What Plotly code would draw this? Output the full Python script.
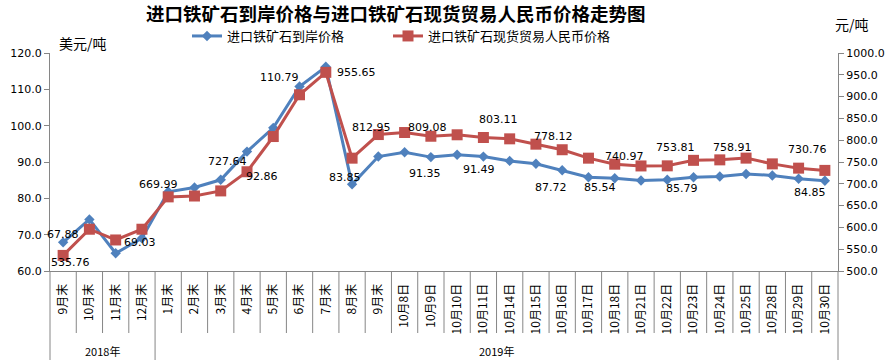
import plotly.graph_objects as go

# ---------------- data ----------------
categories = ["9月末", "10月末", "11月末", "12月末",
              "1月末", "2月末", "3月末", "4月末", "5月末", "6月末", "7月末", "8月末", "9月末",
              "10月8日", "10月9日", "10月10日", "10月11日", "10月14日", "10月15日", "10月16日",
              "10月17日", "10月18日", "10月21日", "10月22日", "10月23日", "10月24日", "10月25日",
              "10月28日", "10月29日", "10月30日"]
year_labels = ["2018年", "2019年"]
year_sizes = [4, 26]

usd_price = [67.88, 74.2, 64.9, 69.03, 81.8, 83.0, 85.1, 92.86, 99.4, 110.79, 116.2, 83.85,
             91.5, 92.7, 91.35, 92.0, 91.49, 90.3, 89.5, 87.72, 85.8, 85.54, 84.9, 85.1,
             85.79, 86.0, 86.7, 86.3, 85.4, 84.85]
rmb_price = [535.76, 595.8, 571.2, 595.8, 669.99, 672.0, 683.7, 727.64, 808.4, 904.2, 955.65, 758.8,
             812.95, 817.6, 809.08, 812.4, 806.2, 803.11, 790.9, 778.12, 758.8, 745.0, 740.97, 741.2,
             753.81, 754.9, 758.91, 745.7, 735.9, 730.76]

series_names = ["进口铁矿石到岸价格", "进口铁矿石现货贸易人民币价格"]
title_text = "进口铁矿石到岸价格与进口铁矿石现货贸易人民币价格走势图"
left_unit = "美元/吨"
right_unit = "元/吨"

# indices of labelled points
usd_label_idx = [0, 3, 7, 9, 11, 14, 16, 19, 21, 24, 29]
rmb_label_idx = [0, 4, 7, 10, 12, 14, 17, 19, 22, 24, 26, 29]

# ---------------- styles ----------------
usd_label_off = [(0, 8), (-2, -4), (15, -25), (-20, 9), (-7, 7), (-6, -16), (-4, -13),
                 (-11, -17), (-15, -9), (-12, -11), (-15, -12)]
rmb_label_off = [(7, -7), (-10, 12), (-20, 10), (31, 0), (-7, 7), (-3, 9), (-11, 19),
                 (-9, 13), (-17, 9), (-18, 13), (-14, 11), (-17, 21)]

BLUE = "#4F81BD"
RED = "#C0504D"
AXIS = "#868686"
CJK = "Noto Sans CJK SC"
NUM = "DejaVu Sans"

W, H = 896, 364
ML, MR, MT, MB = 50, 58, 53, 93
plot_w = W - ML - MR
plot_h = H - MT - MB


def px_x(p):
    return (p - ML) / plot_w


def px_y(p):
    return (H - MB - p) / plot_h


x = list(range(len(categories)))

fig = go.Figure()
fig.add_trace(go.Scatter(
    x=x, y=usd_price, name=series_names[0], mode="lines+markers",
    line=dict(color=BLUE, width=3),
    marker=dict(symbol="diamond", size=8, color=BLUE),
    yaxis="y", legend="legend"))
fig.add_trace(go.Scatter(
    x=x, y=rmb_price, name=series_names[1], mode="lines+markers",
    line=dict(color=RED, width=3),
    marker=dict(symbol="square", size=11, color=RED),
    yaxis="y2", legend="legend2"))

annotations = []
for i, (dx, dy) in zip(usd_label_idx, usd_label_off):
    annotations.append(dict(x=x[i], y=usd_price[i], xref="x", yref="y",
                            text=f"{usd_price[i]:.2f}", showarrow=False,
                            xshift=dx, yshift=dy,
                            font=dict(family=NUM, size=11, color="#000")))
for i, (dx, dy) in zip(rmb_label_idx, rmb_label_off):
    annotations.append(dict(x=x[i], y=rmb_price[i], xref="x", yref="y2",
                            text=f"{rmb_price[i]:.2f}", showarrow=False,
                            xshift=dx, yshift=dy,
                            font=dict(family=NUM, size=11, color="#000")))

# title & units
annotations.append(dict(x=px_x(396), y=px_y(13.4), xref="paper", yref="paper",
                        text=f"<b>{title_text}</b>", showarrow=False,
                        xanchor="center", yanchor="middle",
                        font=dict(family=CJK, size=18.5, color="#000")))
annotations.append(dict(x=px_x(57), y=px_y(43), xref="paper", yref="paper",
                        text=left_unit, showarrow=False, xanchor="left", yanchor="middle",
                        font=dict(family=CJK, size=14, color="#000")))
annotations.append(dict(x=px_x(833), y=px_y(24), xref="paper", yref="paper",
                        text=right_unit, showarrow=False, xanchor="left", yanchor="middle",
                        font=dict(family=CJK, size=14, color="#000")))

# category separators and year groups
n = len(categories)
shapes = []
group_edges = [0]
for s in year_sizes:
    group_edges.append(group_edges[-1] + s)
for k in range(n + 1):
    depth = 89 if k in group_edges else 62
    shapes.append(dict(type="line", xref="paper", yref="paper",
                       x0=k / n, x1=k / n, y0=0, y1=-depth / plot_h,
                       line=dict(color=AXIS, width=1)))
for g, lab in enumerate(year_labels):
    cx = (group_edges[g] + group_edges[g + 1]) / 2 / n
    annotations.append(dict(x=cx, y=-80 / plot_h, xref="paper", yref="paper",
                            text=lab, showarrow=False, xanchor="center", yanchor="middle",
                            font=dict(family=CJK, size=11, color="#000")))

legend_style = dict(orientation="h", xanchor="left", yanchor="middle",
                    font=dict(family=CJK, size=13, color="#000"),
                    bgcolor="rgba(0,0,0,0)")

fig.update_layout(
    width=W, height=H,
    margin=dict(l=ML, r=MR, t=MT, b=MB, autoexpand=False),
    paper_bgcolor="white", plot_bgcolor="white",
    showlegend=True,
    legend=dict(x=px_x(187), y=px_y(36), **legend_style),
    legend2=dict(x=px_x(388), y=px_y(36), **legend_style),
    annotations=annotations,
    shapes=shapes,
    xaxis=dict(range=[-0.5, n - 0.5], tickmode="array", tickvals=x, ticktext=categories,
               tickangle=-90, showline=True, linecolor=AXIS, ticks="", showgrid=False,
               zeroline=False, ticklabelstandoff=7, automargin=False,
               tickfont=dict(family=CJK, size=12, color="#000")),
    yaxis=dict(range=[60, 120], dtick=10, tickformat=".1f", showline=True, linecolor=AXIS,
               ticks="outside", ticklen=5, tickcolor=AXIS, showgrid=False, zeroline=False,
               automargin=False, tickfont=dict(family=NUM, size=11, color="#000")),
    yaxis2=dict(range=[500, 1000], dtick=50, tickformat=".1f", overlaying="y", side="right",
                showline=True, linecolor=AXIS, ticks="outside", ticklen=5, tickcolor=AXIS,
                showgrid=False, zeroline=False, automargin=False,
                tickfont=dict(family=NUM, size=11, color="#000")),
)

fig.write_html("out.html",
               config={"displayModeBar": False},
               post_script="document.body.style.margin='0px';document.body.style.overflow='hidden';")
